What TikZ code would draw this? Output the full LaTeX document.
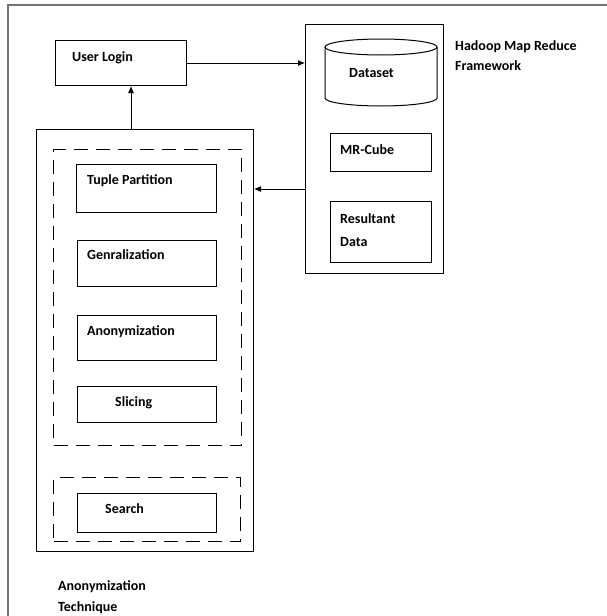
\documentclass[tikz,border=0pt]{standalone}
\usepackage{fontspec}
\setmainfont{Carlito}
\usepackage{tikz}
\usetikzlibrary{positioning,arrows.meta}

\begin{document}
\begin{tikzpicture}[x=1pt,y=-1pt,%
  box/.style={draw,line width=1pt,anchor=north west,inner sep=0pt},%
  dbox/.style={draw,line width=1pt,dash pattern=on 14pt off 8pt,anchor=north west,inner sep=0pt},%
  txt/.style={anchor=base west,inner sep=0pt,font=\fontsize{14}{16}\selectfont\bfseries},%
  arr/.style={-{Latex[length=7pt,width=6pt]},line width=1pt},%
  frame/.style={draw=black!55,line width=2pt}%
  ]
  \useasboundingbox (0,0) rectangle (607,616);
  \draw[frame] (8,616) -- (8,5) -- (607,5);
%
  % user login
  \node[box,minimum width=131pt,minimum height=45pt] (login) at (55,40) {};
  \node[txt] (login-t) at (72,61) {User Login};
%
  % hadoop side
  \node[box,minimum width=138pt,minimum height=249pt] (hadoop) at (305,24) {};
  \node[anchor=north west,inner sep=0pt,minimum width=112pt,minimum height=67pt] (data) at (325,39) {};
  \draw[line width=1pt] (381,47) ellipse (56pt and 8pt);
  \draw[line width=1pt] (325,47) -- (325,98)
    arc[start angle=180,end angle=360,x radius=56pt,y radius=8pt] -- (437,47);
  \node[txt] (data-t) at (349,77) {Dataset};
  \node[box,minimum width=101pt,minimum height=38pt] (mr) at (330,133) {};
  \node[txt] (mr-t) at (340,154) {MR-Cube};
  \node[box,minimum width=101pt,minimum height=61pt] (res) at (330,201) {};
  \node[txt] (res-t1) at (340,223) {Resultant};
  \node[txt] (res-t2) at (340,246) {Data};
  \node[txt] (hadoop-t1) at (455,50) {Hadoop Map Reduce};
  \node[txt] (hadoop-t2) at (455,70) {Framework};
%
  % anonymization side
  \node[box,minimum width=217pt,minimum height=422pt] (anon) at (36,129) {};
  \node[dbox,minimum width=188pt,minimum height=296pt] (grp) at (53,149) {};
  \node[box,minimum width=140pt,minimum height=48pt] (tp) at (76,164) {};
  \node[txt] (tp-t) at (87,184) {Tuple Partition};
  \node[box,minimum width=139pt,minimum height=46pt] (gen) at (77,240) {};
  \node[txt] (gen-t) at (87,259) {Genralization};
  \node[box,minimum width=139pt,minimum height=45pt] (ano) at (77,315) {};
  \node[txt] (ano-t) at (87,335) {Anonymization};
  \node[box,minimum width=139pt,minimum height=36pt] (sli) at (77,386) {};
  \node[txt] (sli-t) at (115,406) {Slicing};
  \node[dbox,minimum width=187pt,minimum height=64pt] (sgrp) at (53,477) {};
  \node[box,minimum width=139pt,minimum height=39pt] (srch) at (77,493) {};
  \node[txt] (srch-t) at (105,513) {Search};
  \node[txt] (anon-t1) at (58,590) {Anonymization};
  \node[txt] (anon-t2) at (58,611) {Technique};
%
  \draw[arr] (login.east) -- (login.east -| hadoop.west);
  \draw[arr] (hadoop.west |- 0,189) -- (anon.east |- 0,189);
  \draw[arr] (anon.north -| 131,0) -- (login.south -| 131,0);
%
\end{tikzpicture}
\end{document}
